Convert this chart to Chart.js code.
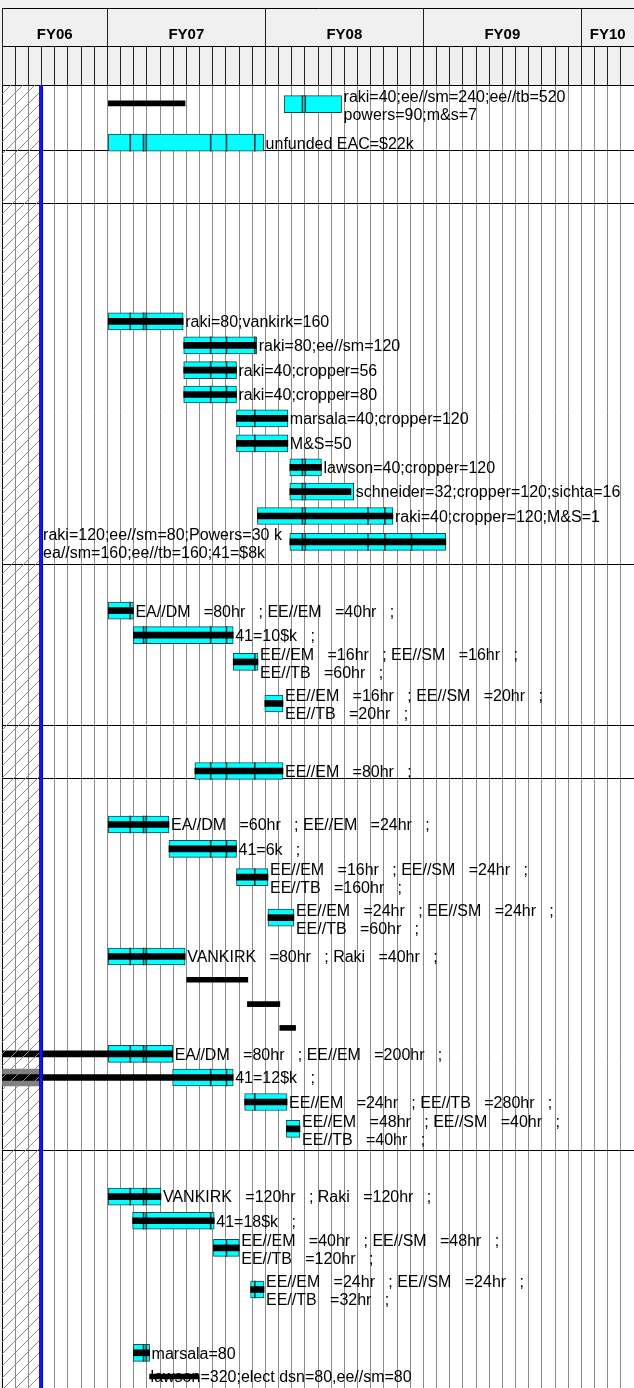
<!DOCTYPE html>
<html>
<head>
<meta charset="utf-8">
<script src="https://cdn.jsdelivr.net/npm/chart.js@4.4.1/dist/chart.umd.min.js"></script>
<style>
  html, body { margin: 0; padding: 0; background: #fff; }
  canvas { display: block; background: #f0f0f0; }
</style>
</head>
<body>
<canvas id="gantt" width="634" height="1388"></canvas>
<script>
// time axis: months shown (Feb 2006 .. Jan 2010)
const monthCount = 48;
const fiscalYears = ['FY06', 'FY07', 'FY08', 'FY09', 'FY10'];
const fiscalMonths = [8, 12, 12, 12, 4];
const statusDate = 2.97;
// non-working days that split the bars
const holidays = [9.74, 10.75, 10.96, 15.85, 17.05, 19.2, 22.82, 23.03, 27.8, 29.08, 31.1];
// rows (one unit = one task row)
const rowCount = 53.3;
const sectionBreaks = [2.69, 4.83, 19.63, 26.2, 28.37, 43.6];

// tasks (cyan bars)
const taskRows   = [0.78, 2.36, 9.67, 10.65, 11.66, 12.66, 13.64, 14.66, 15.64, 16.63, 17.63, 18.69,
                    21.5, 22.5, 23.6, 25.3, 28.06, 30.25, 31.25, 32.4, 34.06, 35.65,
                    39.63, 40.6, 41.6, 42.7, 45.47, 46.46, 47.57, 49.27, 51.86];
const taskStarts = [21.43, 8.08, 8.08, 13.8, 13.8, 13.8, 17.81, 17.81, 21.86, 21.86, 19.4, 21.86,
                    8.08, 9.98, 17.56, 19.96, 14.65, 8.08, 12.68, 17.81, 20.2, 8.08,
                    8.08, 12.96, 18.43, 21.6, 8.08, 9.92, 16.06, 18.88, 9.98];
const taskEnds   = [25.79, 19.87, 13.76, 19.35, 17.81, 17.81, 21.71, 21.71, 24.26, 26.71, 29.69, 33.71,
                    9.98, 17.56, 19.44, 21.34, 21.34, 12.68, 17.81, 20.2, 22.17, 13.91,
                    12.96, 17.56, 21.65, 22.63, 12.07, 16.12, 18.02, 19.9, 11.21];
// black line inside the bar (null = none)
const doneStarts = [null, null, 8.08, 13.8, 13.8, 13.8, 17.81, 17.81, 21.86, 21.86, 19.4, 21.86,
                    8.08, 9.98, 17.56, 19.96, 14.65, 8.08, 12.68, 17.81, 20.2, 8.08,
                    0, 0, 18.43, 21.6, 8.08, 9.92, 16.06, 18.88, 9.98];
const doneEnds   = [null, null, 13.76, 19.3, 17.81, 17.81, 21.71, 21.71, 24.26, 26.5, 29.69, 33.71,
                    9.98, 17.56, 19.44, 21.34, 21.34, 12.68, 17.81, 20.2, 22.17, 13.91,
                    12.96, 17.56, 21.65, 22.63, 12.07, 16.12, 18.02, 19.9, 11.21];
const taskNotes = [
  ['raki=40;ee//sm=240;ee//tb=520', 'powers=90;m&s=7'],
  ['unfunded EAC=$22k'],
  ['raki=80;vankirk=160'],
  ['raki=80;ee//sm=120'],
  ['raki=40;cropper=56'],
  ['raki=40;cropper=80'],
  ['marsala=40;cropper=120'],
  ['M&S=50'],
  ['lawson=40;cropper=120'],
  ['schneider=32;cropper=120;sichta=16'],
  ['raki=40;cropper=120;M&S=1'],
  ['raki=120;ee//sm=80;Powers=30 k', 'ea//sm=160;ee//tb=160;41=$8k'],
  ['EA//DM   =80hr   ; EE//EM   =40hr   ;'],
  ['41=10$k   ;'],
  ['EE//EM   =16hr   ; EE//SM   =16hr   ;', 'EE//TB   =60hr   ;'],
  ['EE//EM   =16hr   ; EE//SM   =20hr   ;', 'EE//TB   =20hr   ;'],
  ['EE//EM   =80hr   ;'],
  ['EA//DM   =60hr   ; EE//EM   =24hr   ;'],
  ['41=6k   ;'],
  ['EE//EM   =16hr   ; EE//SM   =24hr   ;', 'EE//TB   =160hr   ;'],
  ['EE//EM   =24hr   ; EE//SM   =24hr   ;', 'EE//TB   =60hr   ;'],
  ['VANKIRK   =80hr   ; Raki   =40hr   ;'],
  ['EA//DM   =80hr   ; EE//EM   =200hr   ;'],
  ['41=12$k   ;'],
  ['EE//EM   =24hr   ; EE//TB   =280hr   ;'],
  ['EE//EM   =48hr   ; EE//SM   =40hr   ;', 'EE//TB   =40hr   ;'],
  ['VANKIRK   =120hr   ; Raki   =120hr   ;'],
  ['41=18$k   ;'],
  ['EE//EM   =40hr   ; EE//SM   =48hr   ;', 'EE//TB   =120hr   ;'],
  ['EE//EM   =24hr   ; EE//SM   =24hr   ;', 'EE//TB   =32hr   ;'],
  ['marsala=80']
];
const noteSides = taskRows.map((r, i) => i === 11 ? 'status' : 'end');

// black summary lines
const lineRows   = [0.75, 36.6, 37.6, 38.57, 52.83];
const lineStarts = [8.08, 14.03, 18.64, 21.1, 11.21];
const lineEnds   = [13.9, 18.67, 21.1, 22.3, 14.89];
const lineNotes  = [[], [], [], [], ['lawson=320;elect dsn=80,ee//sm=80']];

// part of a task lying before the status date
const pastRows   = [40.6];
const pastStarts = [0];
const pastEnds   = [2.92];

// derived axis values
const fyBounds = [0];
fiscalMonths.forEach(m => fyBounds.push(fyBounds[fyBounds.length - 1] + m));
const fyLabelAt = {};
fiscalYears.forEach((name, i) => { fyLabelAt[(fyBounds[i] + fyBounds[i + 1]) / 2] = name; });
const fyTicks = fyBounds.concat(Object.keys(fyLabelAt).map(Number)).sort((a, b) => a - b);

const canvas = document.getElementById('gantt');
const ctx = canvas.getContext('2d');

function hatch() {
  const c = document.createElement('canvas');
  c.width = c.height = 12;
  const g = c.getContext('2d');
  g.strokeStyle = '#8c8c8c';
  g.lineWidth = 1;
  g.beginPath();
  g.moveTo(0, 12); g.lineTo(12, 0);
  g.moveTo(-1, 1); g.lineTo(1, -1);
  g.moveTo(11, 13); g.lineTo(13, 11);
  g.stroke();
  return ctx.createPattern(c, 'repeat');
}

const taskData = taskRows.map((r, i) => ({ x: [taskStarts[i], taskEnds[i]], y: r }));
const doneData = taskRows.map((r, i) => doneEnds[i] == null ? null : { x: [doneStarts[i], doneEnds[i]], y: r }).filter(Boolean);
const lineData = lineRows.map((r, i) => ({ x: [lineStarts[i], lineEnds[i]], y: r }));
const pastData = pastRows.map((r, i) => ({ x: [pastStarts[i], pastEnds[i]], y: r }));
const splitData = [];
taskRows.forEach((r, i) => holidays.forEach(h => {
  if (h > taskStarts[i] + 0.1 && h < taskEnds[i] - 0.1) splitData.push({ x: [h - 0.04, h + 0.04], y: r });
}));

const font = '"Liberation Sans", Arial, sans-serif';

const paper = {
  id: 'paper',
  beforeDraw(chart) {
    const a = chart.chartArea;
    chart.ctx.save();
    chart.ctx.fillStyle = '#fff';
    chart.ctx.fillRect(a.left, a.top, a.right - a.left, a.bottom - a.top);
    chart.ctx.restore();
  }
};

// bar notes, written next to the bars
const notes = {
  id: 'notes',
  afterDatasetsDraw(chart) {
    const c = chart.ctx;
    const xs = chart.scales.x;
    c.save();
    c.font = '16px ' + font;
    c.fillStyle = '#000';
    c.textBaseline = 'middle';
    c.textAlign = 'left';
    chart.data.datasets.forEach((ds, di) => {
      if (!ds.notes) return;
      chart.getDatasetMeta(di).data.forEach((bar, i) => {
        const lines = ds.notes[i] || [];
        if (!lines.length) return;
        const side = ds.sides ? ds.sides[i] : 'start';
        let x = bar.x + 2;
        if (side === 'start') x = bar.base + 1;
        if (side === 'status') x = xs.getPixelForValue(statusDate) + 2;
        const y0 = lines.length > 1 ? bar.y - 6.5 : bar.y + 1.5;
        lines.forEach((t, k) => c.fillText(t, x, y0 + k * 18));
      });
    });
    c.restore();
  }
};

new Chart(ctx, {
  type: 'bar',
  data: {
    datasets: [
      { label: 'status', data: [{ x: [statusDate - 0.13, statusDate + 0.14], y: rowCount / 2 }],
        backgroundColor: '#1414ff', borderColor: '#00008a', borderWidth: 1, borderSkipped: false,
        barThickness: 1400, order: 0 },
      { label: 'past', data: [{ x: [0, statusDate - 0.1], y: rowCount / 2 }],
        backgroundColor: hatch(), borderWidth: 0, barThickness: 1400, order: 1 },
      { label: 'lines', data: lineData, notes: lineNotes,
        backgroundColor: '#000', borderWidth: 0, barThickness: 5, order: 2 },
      { label: 'done', data: doneData,
        backgroundColor: '#000', borderWidth: 0, barThickness: 6, order: 2 },
      { label: 'splits', data: splitData,
        backgroundColor: '#1e4646', borderWidth: 0, barThickness: 17, order: 3 },
      { label: 'tasks', data: taskData, notes: taskNotes, sides: noteSides,
        backgroundColor: '#00ffff', borderColor: '#1e4646', borderWidth: 1, borderSkipped: false,
        barThickness: 17, order: 4 },
      { label: 'before status', data: pastData,
        backgroundColor: '#808080', borderWidth: 0, barThickness: 17, order: 4 }
    ]
  },
  options: {
    indexAxis: 'y',
    responsive: false,
    animation: false,
    layout: { padding: 0 },
    datasets: { bar: { grouped: false } },
    plugins: { legend: { display: false }, tooltip: { enabled: false } },
    scales: {
      x: {
        type: 'linear', position: 'top', min: 0, max: monthCount, offset: false,
        afterBuildTicks: s => { s.ticks = Array.from({ length: monthCount + 1 }, (_, i) => ({ value: i })); },
        afterFit: s => { s.height = 39; },
        ticks: { display: false },
        grid: { color: '#8a8a8a', tickColor: '#222', tickLength: 39, lineWidth: 1, offset: false },
        border: { color: '#000' }
      },
      fy: {
        axis: 'x', type: 'linear', position: 'top', weight: 1, min: 0, max: monthCount, offset: false,
        afterBuildTicks: s => { s.ticks = fyTicks.map(v => ({ value: v })); },
        afterFit: s => { s.height = 38; },
        ticks: {
          autoSkip: false, maxRotation: 0, minRotation: 0, padding: -36, color: '#000',
          font: { family: font, size: 15, weight: 'bold' },
          callback: v => fyLabelAt[v] || ''
        },
        grid: {
          drawOnChartArea: false, tickLength: 38, offset: false,
          tickColor: c => (c.tick && fyBounds.includes(c.tick.value)) ? '#222' : 'rgba(0,0,0,0)'
        },
        border: { color: '#000' }
      },
      cap: {
        axis: 'x', type: 'linear', position: 'top', weight: 2, min: 0, max: monthCount, offset: false,
        afterFit: s => { s.height = 8; },
        ticks: { display: false },
        grid: { drawOnChartArea: false, drawTicks: false },
        border: { color: '#000' }
      },
      y: {
        type: 'linear', reverse: true, min: 0, max: rowCount, offset: false,
        afterBuildTicks: s => { s.ticks = sectionBreaks.map(v => ({ value: v })); },
        afterFit: s => { s.width = 2; },
        ticks: { display: false },
        grid: { color: '#000', lineWidth: 1, drawTicks: false, offset: false },
        border: { color: '#000' }
      }
    }
  },
  plugins: [paper, notes]
});
</script>
</body>
</html>
